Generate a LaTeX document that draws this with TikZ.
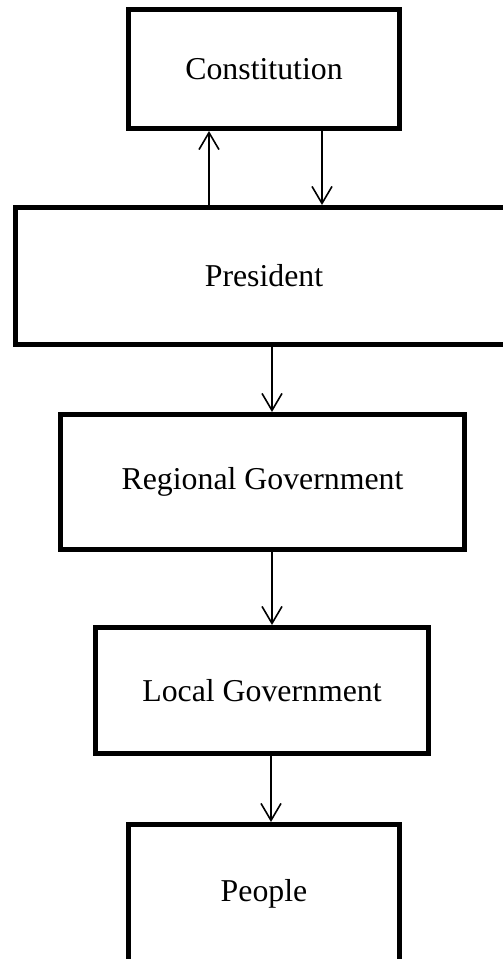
\documentclass[tikz,border=0pt]{standalone}
\usepackage{fontspec}
\setmainfont{Liberation Serif}
\usetikzlibrary{arrows.meta}
\begin{document}
\begin{tikzpicture}[x=1pt,y=-1pt,
  box/.style={draw=black,line width=5pt,rectangle,inner sep=0pt,fill=white,
    font=\fontsize{31.8}{38}\selectfont},
  arr/.style={draw=black,line width=1.6pt,-{Straight Barb[length=17pt,width=20pt,line width=1.6pt]}}]
\useasboundingbox (0,0) rectangle (503,959);
\fill[white] (0,0) rectangle (503,959);
\node[box,minimum width=271pt,minimum height=119pt] (const) at (264,69) {Constitution};
\node[box,minimum width=497pt,minimum height=137pt] (pres) at (264,276) {President};
\node[box,minimum width=404pt,minimum height=135pt] (reg) at (262.5,482) {Regional Government};
\node[box,minimum width=333pt,minimum height=126pt] (loc) at (262,690.5) {Local Government};
\node[box,minimum width=271pt,minimum height=138pt] (peop) at (264,893.5) {People};
\coordinate (upx) at (209,0);
\coordinate (dnx) at (322,0);
\coordinate (mx) at (272,0);
\coordinate (mx2) at (271,0);
\draw[arr] (pres.north -| upx) -- (const.south -| upx);
\draw[arr] (const.south -| dnx) -- (pres.north -| dnx);
\draw[arr] (pres.south -| mx) -- (reg.north -| mx);
\draw[arr] (reg.south -| mx) -- (loc.north -| mx);
\draw[arr] (loc.south -| mx2) -- (peop.north -| mx2);
\end{tikzpicture}
\end{document}
